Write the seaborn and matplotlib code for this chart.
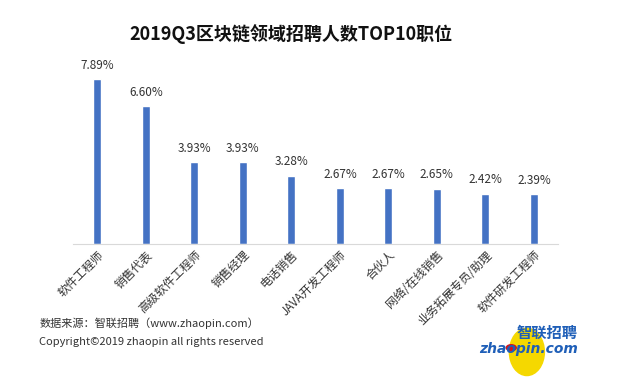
import matplotlib
matplotlib.use("Agg")
import matplotlib.pyplot as plt
from matplotlib.patches import Ellipse, Circle
import seaborn as sns
import pandas as pd

sns.set_style("white")
plt.rcParams['font.family'] = ['Noto Sans CJK SC', 'DejaVu Sans']

# data
jobs = ["软件工程师", "销售代表", "高级软件工程师", "销售经理", "电话销售",
        "JAVA开发工程师", "合伙人", "网络/在线销售", "业务拓展专员/助理", "软件研发工程师"]
share = [7.89, 6.60, 3.93, 3.93, 3.28, 2.67, 2.67, 2.65, 2.42, 2.39]

df = pd.DataFrame({"job": jobs, "share": share})

fig = plt.figure(figsize=(6.25, 3.78), dpi=100)
ax = fig.add_axes([0.117, 0.354, 0.776, 0.47])

sns.barplot(data=df, x="job", y="share", color="#4472C4", width=0.17,
            saturation=1, ax=ax)

for i, v in enumerate(share):
    ax.text(i, v + 0.35, f"{v:.2f}%", ha="center", va="bottom",
            fontsize=8.5, color="#333333")

ax.set_xlim(-0.5, len(jobs) - 0.5)
ax.set_ylim(0, 8.5)
ax.set_xlabel("")
ax.set_ylabel("")
ax.set_yticks([])
for s in ["top", "right", "left"]:
    ax.spines[s].set_visible(False)
ax.spines["bottom"].set_color("#d9d9d9")
ax.tick_params(axis="x", length=0, pad=3)
plt.setp(ax.get_xticklabels(), rotation=45, ha="right", rotation_mode="anchor",
         fontsize=8.5, color="#333333")

fig.text(0.465, 0.91, "2019Q3区块链领域招聘人数TOP10职位", ha="center", va="center",
         fontsize=13, fontweight="bold", color="#111111")

fig.text(0.063, 0.145, "数据来源：智联招聘（www.zhaopin.com）", fontsize=8,
         color="#333333", va="center")
fig.text(0.063, 0.095, "Copyright©2019 zhaopin all rights reserved", fontsize=8,
         color="#333333", va="center")

# logo
fig.patches.append(Ellipse((0.843, 0.069), 0.056, 0.125, transform=fig.transFigure,
                           color="#f5d800", zorder=0))
fig.text(0.875, 0.119, "智联招聘", ha="center", va="center", fontsize=11,
         fontweight="bold", color="#1f5fb8", style="italic")
fig.text(0.845, 0.077, "zhaopin.com", ha="center", va="center", fontsize=10,
         fontweight="bold", color="#1f5fb8", family="DejaVu Sans", style="italic")
fig.patches.append(Circle((0.818, 0.08), 0.008, transform=fig.transFigure,
                          color="#d4141a", zorder=3))

fig.savefig("out.png", dpi=100, facecolor="white")
